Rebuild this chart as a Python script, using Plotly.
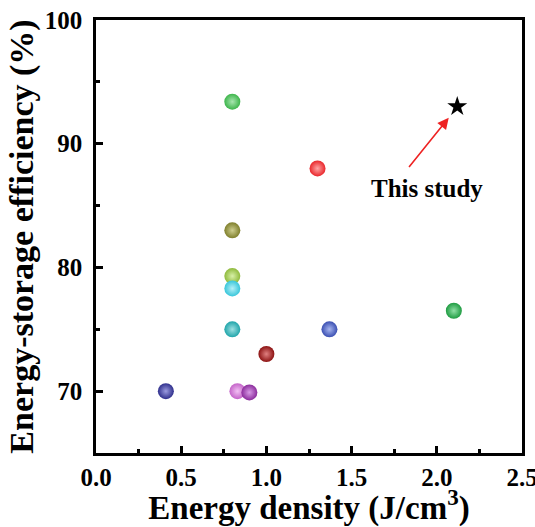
import plotly.graph_objects as go

# Literature data points (energy density J/cm3, efficiency %)
energy_density = [0.80, 1.30, 0.80, 0.80, 0.80, 0.80, 1.37, 1.00, 0.41, 0.83, 0.90, 2.10]
efficiency = [93.4, 88.0, 83.0, 79.3, 78.3, 75.0, 75.0, 73.0, 70.0, 70.0, 69.9, 76.5]
colors = ["#3db54b", "#e9262b", "#7f7f2c", "#8fba3c", "#38c6da", "#20a5aa",
          "#3a4fb2", "#8c1212", "#2f2f8c", "#c463c8", "#8b2c9c", "#1f9c42"]
highlights = ["#a8e6b0", "#ffa5a5", "#cfcf90", "#d8f0a8", "#b5f0f8", "#9ee0e2",
              "#a8b6f0", "#e08080", "#9c9ce0", "#f2c0f4", "#d89ae6", "#90e0a6"]

# This study
this_x = [2.12]
this_y = [93.0]
label_text = "This study"
arrow_tail = (1.83, 88.0)
arrow_head = (2.07, 92.1)
label_pos = (1.94, 86.4)

x_ticks = [0.0, 0.5, 1.0, 1.5, 2.0, 2.5]
y_ticks = [70, 80, 90, 100]

font_family = "Liberation Serif"

fig = go.Figure()
fig.add_trace(go.Scatter(
    x=energy_density, y=efficiency, mode="markers",
    marker=dict(size=16, color=colors, line=dict(width=0),
                gradient=dict(type="radial", color=highlights)),
    showlegend=False, cliponaxis=False,
))
fig.add_trace(go.Scatter(
    x=this_x, y=this_y, mode="markers",
    marker=dict(symbol="star", size=15, color="black", line=dict(width=0)),
    showlegend=False,
))

fig.add_annotation(
    x=arrow_head[0], y=arrow_head[1], ax=arrow_tail[0], ay=arrow_tail[1],
    xref="x", yref="y", axref="x", ayref="y",
    showarrow=True, arrowhead=2, arrowsize=1.4, arrowwidth=1.6,
    arrowcolor="#ee2222", text="",
)
fig.add_annotation(
    x=label_pos[0], y=label_pos[1], xref="x", yref="y",
    text="<b>%s</b>" % label_text, showarrow=False,
    font=dict(family=font_family, size=25, color="black"),
)

axis_common = dict(
    showgrid=False, zeroline=False, showline=True, linecolor="black",
    linewidth=2.5, mirror=True, ticks="inside", tickwidth=2.5, ticklen=7,
    tickcolor="black", automargin=False, ticklabeloverflow="allow",
    tickfont=dict(family=font_family, size=25, color="black", weight="bold"),
)

fig.update_xaxes(
    range=[0, 2.5], tickvals=x_ticks, ticktext=["%.1f" % v for v in x_ticks],
    minor=dict(dtick=0.25, ticks="inside", ticklen=4, tickwidth=2.5, tickcolor="black"),
    title=dict(text="<b>Energy density (J/cm<sup>3</sup>)</b>",
               font=dict(family=font_family, size=33, color="black"), standoff=0),
    ticklabelstandoff=0,
    **axis_common,
)
fig.update_yaxes(
    range=[65, 100], tickvals=y_ticks,
    minor=dict(dtick=5, ticks="inside", ticklen=4, tickwidth=2.5, tickcolor="black"),
    title=dict(text="<b>Energy-storage efficiency (%)</b>",
               font=dict(family=font_family, size=34, color="black"), standoff=1),
    ticklabelstandoff=6,
    **axis_common,
)

fig.update_layout(
    width=535, height=527,
    margin=dict(l=96, r=13, t=20, b=74),
    plot_bgcolor="white", paper_bgcolor="white",
)

# remove the default page margin so the figure fills the window exactly
fig.write_html("out.html", config={"displayModeBar": False},
               post_script="document.body.style.margin='0';document.body.style.overflow='hidden';")
